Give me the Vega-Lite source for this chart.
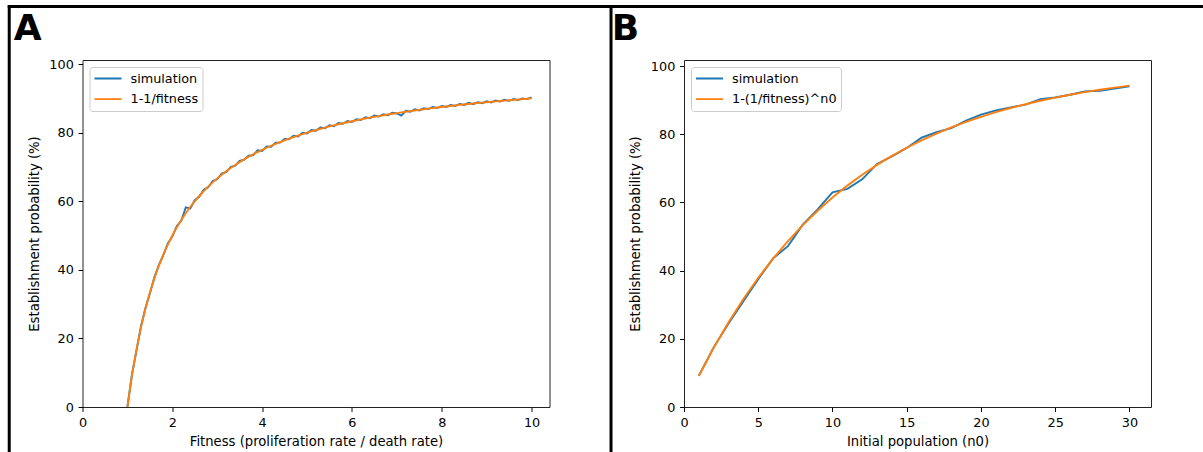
{
  "$schema": "https://vega.github.io/schema/vega-lite/v6.json",
  "padding": {"left": 5.5, "top": 3, "right": 0, "bottom": 0},
  "background": "white",
  "bounds": "flush",
  "spacing": 134.5,
  "config": {
    "font": "DejaVu Sans",
    "view": {"stroke": "#222222", "strokeWidth": 1},
    "axis": {"grid": false, "domain": false, "labelFont": "DejaVu Sans", "labelFontSize": 12.8, "labelColor": "#000000", "tickColor": "#000000", "tickSize": 4.4, "tickWidth": 1, "titleFont": "DejaVu Sans", "titleFontSize": 13.2, "titleFontWeight": "normal", "titleColor": "#000000", "labelFlush": false, "labelOverlap": false},
    "axisX": {"labelPadding": 4.6, "titleBaseline": "alphabetic", "titleY": 38},
    "axisY": {"labelPadding": 4.8, "titleBaseline": "alphabetic", "titleX": -44.5},
    "legend": {"orient": "top-left", "offset": 6.5, "padding": 4, "clipHeight": 15, "fillColor": "rgba(255,255,255,0.8)", "strokeColor": "#cccccc", "strokeWidth": 1, "cornerRadius": 3, "symbolType": "stroke", "symbolSize": 729, "symbolStrokeWidth": 1.9, "labelFont": "DejaVu Sans", "labelFontSize": 12.8, "labelColor": "#000000", "labelOffset": 8, "rowPadding": 5.6}
  },
  "datasets": {
    "a": [
      {"x": 1.0, "simulation": 0, "1-1/fitness": 0},
      {"x": 1.1, "simulation": 9.4, "1-1/fitness": 9.09},
      {"x": 1.2, "simulation": 16.3, "1-1/fitness": 16.67},
      {"x": 1.3, "simulation": 23.4, "1-1/fitness": 23.08},
      {"x": 1.4, "simulation": 28.8, "1-1/fitness": 28.57},
      {"x": 1.5, "simulation": 33.1, "1-1/fitness": 33.33},
      {"x": 1.6, "simulation": 37.8, "1-1/fitness": 37.5},
      {"x": 1.7, "simulation": 41.4, "1-1/fitness": 41.18},
      {"x": 1.8, "simulation": 44.3, "1-1/fitness": 44.44},
      {"x": 1.9, "simulation": 47.7, "1-1/fitness": 47.37},
      {"x": 2.0, "simulation": 49.7, "1-1/fitness": 50},
      {"x": 2.1, "simulation": 52.8, "1-1/fitness": 52.38},
      {"x": 2.2, "simulation": 54.3, "1-1/fitness": 54.55},
      {"x": 2.3, "simulation": 58.2, "1-1/fitness": 56.52},
      {"x": 2.4, "simulation": 57.9, "1-1/fitness": 58.33},
      {"x": 2.5, "simulation": 60.3, "1-1/fitness": 60},
      {"x": 2.6, "simulation": 61.3, "1-1/fitness": 61.54},
      {"x": 2.7, "simulation": 63.4, "1-1/fitness": 62.96},
      {"x": 2.8, "simulation": 64.1, "1-1/fitness": 64.29},
      {"x": 2.9, "simulation": 65.9, "1-1/fitness": 65.52},
      {"x": 3.0, "simulation": 66.4, "1-1/fitness": 66.67},
      {"x": 3.1, "simulation": 68.1, "1-1/fitness": 67.74},
      {"x": 3.2, "simulation": 68.5, "1-1/fitness": 68.75},
      {"x": 3.3, "simulation": 70.0, "1-1/fitness": 69.70},
      {"x": 3.4, "simulation": 70.4, "1-1/fitness": 70.59},
      {"x": 3.5, "simulation": 71.8, "1-1/fitness": 71.43},
      {"x": 3.6, "simulation": 72.1, "1-1/fitness": 72.22},
      {"x": 3.7, "simulation": 73.3, "1-1/fitness": 72.97},
      {"x": 3.8, "simulation": 73.4, "1-1/fitness": 73.68},
      {"x": 3.9, "simulation": 74.9, "1-1/fitness": 74.36},
      {"x": 4.0, "simulation": 74.7, "1-1/fitness": 75},
      {"x": 4.1, "simulation": 76.0, "1-1/fitness": 75.61},
      {"x": 4.2, "simulation": 75.9, "1-1/fitness": 76.19},
      {"x": 4.3, "simulation": 77.1, "1-1/fitness": 76.74},
      {"x": 4.4, "simulation": 77.1, "1-1/fitness": 77.27},
      {"x": 4.5, "simulation": 78.2, "1-1/fitness": 77.78},
      {"x": 4.6, "simulation": 78.1, "1-1/fitness": 78.26},
      {"x": 4.7, "simulation": 79.1, "1-1/fitness": 78.72},
      {"x": 4.8, "simulation": 78.9, "1-1/fitness": 79.17},
      {"x": 4.9, "simulation": 80.0, "1-1/fitness": 79.59},
      {"x": 5.0, "simulation": 79.8, "1-1/fitness": 80},
      {"x": 5.1, "simulation": 80.8, "1-1/fitness": 80.39},
      {"x": 5.2, "simulation": 80.6, "1-1/fitness": 80.77},
      {"x": 5.3, "simulation": 81.5, "1-1/fitness": 81.13},
      {"x": 5.4, "simulation": 81.3, "1-1/fitness": 81.48},
      {"x": 5.5, "simulation": 82.2, "1-1/fitness": 81.82},
      {"x": 5.6, "simulation": 81.9, "1-1/fitness": 82.14},
      {"x": 5.7, "simulation": 82.8, "1-1/fitness": 82.46},
      {"x": 5.8, "simulation": 82.6, "1-1/fitness": 82.76},
      {"x": 5.9, "simulation": 83.4, "1-1/fitness": 83.05},
      {"x": 6.0, "simulation": 83.1, "1-1/fitness": 83.33},
      {"x": 6.1, "simulation": 83.9, "1-1/fitness": 83.61},
      {"x": 6.2, "simulation": 83.7, "1-1/fitness": 83.87},
      {"x": 6.3, "simulation": 84.5, "1-1/fitness": 84.13},
      {"x": 6.4, "simulation": 84.2, "1-1/fitness": 84.38},
      {"x": 6.5, "simulation": 85.0, "1-1/fitness": 84.62},
      {"x": 6.6, "simulation": 84.7, "1-1/fitness": 84.85},
      {"x": 6.7, "simulation": 85.4, "1-1/fitness": 85.07},
      {"x": 6.8, "simulation": 85.1, "1-1/fitness": 85.29},
      {"x": 6.9, "simulation": 85.8, "1-1/fitness": 85.51},
      {"x": 7.0, "simulation": 85.6, "1-1/fitness": 85.71},
      {"x": 7.1, "simulation": 85.0, "1-1/fitness": 85.92},
      {"x": 7.2, "simulation": 86.4, "1-1/fitness": 86.11},
      {"x": 7.3, "simulation": 86.1, "1-1/fitness": 86.30},
      {"x": 7.4, "simulation": 86.8, "1-1/fitness": 86.49},
      {"x": 7.5, "simulation": 86.5, "1-1/fitness": 86.67},
      {"x": 7.6, "simulation": 87.1, "1-1/fitness": 86.84},
      {"x": 7.7, "simulation": 86.9, "1-1/fitness": 87.01},
      {"x": 7.8, "simulation": 87.5, "1-1/fitness": 87.18},
      {"x": 7.9, "simulation": 87.2, "1-1/fitness": 87.34},
      {"x": 8.0, "simulation": 87.8, "1-1/fitness": 87.5},
      {"x": 8.1, "simulation": 87.5, "1-1/fitness": 87.65},
      {"x": 8.2, "simulation": 88.1, "1-1/fitness": 87.80},
      {"x": 8.3, "simulation": 87.8, "1-1/fitness": 87.95},
      {"x": 8.4, "simulation": 88.4, "1-1/fitness": 88.10},
      {"x": 8.5, "simulation": 88.1, "1-1/fitness": 88.24},
      {"x": 8.6, "simulation": 88.7, "1-1/fitness": 88.37},
      {"x": 8.7, "simulation": 88.3, "1-1/fitness": 88.51},
      {"x": 8.8, "simulation": 88.9, "1-1/fitness": 88.64},
      {"x": 8.9, "simulation": 88.6, "1-1/fitness": 88.76},
      {"x": 9.0, "simulation": 89.2, "1-1/fitness": 88.89},
      {"x": 9.1, "simulation": 88.8, "1-1/fitness": 89.01},
      {"x": 9.2, "simulation": 89.4, "1-1/fitness": 89.13},
      {"x": 9.3, "simulation": 89.1, "1-1/fitness": 89.25},
      {"x": 9.4, "simulation": 89.6, "1-1/fitness": 89.36},
      {"x": 9.5, "simulation": 89.3, "1-1/fitness": 89.47},
      {"x": 9.6, "simulation": 89.8, "1-1/fitness": 89.58},
      {"x": 9.7, "simulation": 89.5, "1-1/fitness": 89.69},
      {"x": 9.8, "simulation": 90.0, "1-1/fitness": 89.80},
      {"x": 9.9, "simulation": 89.8, "1-1/fitness": 89.90},
      {"x": 10.0, "simulation": 90.3, "1-1/fitness": 90}
    ],
    "b": [
      {"n0": 1, "simulation": 9.2, "1-(1/fitness)^n0": 9.09},
      {"n0": 2, "simulation": 17.5, "1-(1/fitness)^n0": 17.36},
      {"n0": 3, "simulation": 24.5, "1-(1/fitness)^n0": 24.87},
      {"n0": 4, "simulation": 31.0, "1-(1/fitness)^n0": 31.70},
      {"n0": 5, "simulation": 37.5, "1-(1/fitness)^n0": 37.91},
      {"n0": 6, "simulation": 43.6, "1-(1/fitness)^n0": 43.55},
      {"n0": 7, "simulation": 47.2, "1-(1/fitness)^n0": 48.68},
      {"n0": 8, "simulation": 53.5, "1-(1/fitness)^n0": 53.35},
      {"n0": 9, "simulation": 58.0, "1-(1/fitness)^n0": 57.59},
      {"n0": 10, "simulation": 63.0, "1-(1/fitness)^n0": 61.45},
      {"n0": 11, "simulation": 64.0, "1-(1/fitness)^n0": 64.95},
      {"n0": 12, "simulation": 66.8, "1-(1/fitness)^n0": 68.14},
      {"n0": 13, "simulation": 71.3, "1-(1/fitness)^n0": 71.03},
      {"n0": 14, "simulation": 73.5, "1-(1/fitness)^n0": 73.67},
      {"n0": 15, "simulation": 76.0, "1-(1/fitness)^n0": 76.06},
      {"n0": 16, "simulation": 79.0, "1-(1/fitness)^n0": 78.24},
      {"n0": 17, "simulation": 80.6, "1-(1/fitness)^n0": 80.22},
      {"n0": 18, "simulation": 81.8, "1-(1/fitness)^n0": 82.01},
      {"n0": 19, "simulation": 84.0, "1-(1/fitness)^n0": 83.65},
      {"n0": 20, "simulation": 85.8, "1-(1/fitness)^n0": 85.14},
      {"n0": 21, "simulation": 87.0, "1-(1/fitness)^n0": 86.49},
      {"n0": 22, "simulation": 87.9, "1-(1/fitness)^n0": 87.72},
      {"n0": 23, "simulation": 88.7, "1-(1/fitness)^n0": 88.83},
      {"n0": 24, "simulation": 90.3, "1-(1/fitness)^n0": 89.85},
      {"n0": 25, "simulation": 90.8, "1-(1/fitness)^n0": 90.77},
      {"n0": 26, "simulation": 91.6, "1-(1/fitness)^n0": 91.61},
      {"n0": 27, "simulation": 92.6, "1-(1/fitness)^n0": 92.37},
      {"n0": 28, "simulation": 92.8, "1-(1/fitness)^n0": 93.07},
      {"n0": 29, "simulation": 93.4, "1-(1/fitness)^n0": 93.70},
      {"n0": 30, "simulation": 94.1, "1-(1/fitness)^n0": 94.27}
    ]
  },
  "hconcat": [
    {
      "width": 467,
      "height": 347,
      "layer": [
        {
          "data": {"name": "a"},
          "transform": [{"fold": ["simulation", "1-1/fitness"], "as": ["series", "value"]}],
          "mark": {"type": "line", "strokeWidth": 1.9},
          "encoding": {
            "x": {"field": "x", "type": "quantitative", "scale": {"domain": [0, 10.4], "nice": false, "zero": false}, "axis": {"values": [0, 2, 4, 6, 8, 10], "title": "Fitness (proliferation rate / death rate)"}},
            "y": {"field": "value", "type": "quantitative", "scale": {"domain": [0, 101.2], "nice": false}, "axis": {"values": [0, 20, 40, 60, 80, 100], "title": "Establishment probability (%)"}},
            "color": {"field": "series", "type": "nominal", "scale": {"domain": ["simulation", "1-1/fitness"], "range": ["#1f77b4", "#ff7f0e"]}, "legend": {"title": null}}
          }
        },
        {
          "data": {"values": [{}]},
          "mark": {"type": "text", "text": "A", "fontSize": 36, "fontWeight": "bold", "font": "DejaVu Sans", "align": "left", "baseline": "alphabetic", "color": "#000000"},
          "encoding": {"x": {"datum": -1.532}, "y": {"datum": 107.12}}
        },
        {
          "data": {"values": [{}]},
          "mark": {"type": "rule", "strokeWidth": 3, "color": "#000000"},
          "encoding": {"x": {"datum": -1.632}, "y": {"datum": 117.2}, "y2": {"datum": -14}}
        },
        {
          "data": {"values": [{}]},
          "mark": {"type": "rule", "strokeWidth": 3, "color": "#000000"},
          "encoding": {"x": {"datum": -1.665}, "x2": {"datum": 11.80}, "y": {"datum": 116.8}}
        },
        {
          "data": {"values": [{}]},
          "mark": {"type": "rule", "strokeWidth": 3, "color": "#000000"},
          "encoding": {"x": {"datum": 11.77}, "y": {"datum": 117.2}, "y2": {"datum": -14}}
        }
      ]
    },
    {
      "width": 467,
      "height": 347,
      "layer": [
        {
          "data": {"name": "b"},
          "transform": [{"fold": ["simulation", "1-(1/fitness)^n0"], "as": ["series", "value"]}],
          "mark": {"type": "line", "strokeWidth": 1.9},
          "encoding": {
            "x": {"field": "n0", "type": "quantitative", "scale": {"domain": [0, 31.45], "nice": false, "zero": false}, "axis": {"values": [0, 5, 10, 15, 20, 25, 30], "title": "Initial population (n0)"}},
            "y": {"field": "value", "type": "quantitative", "scale": {"domain": [0, 101.8], "nice": false}, "axis": {"values": [0, 20, 40, 60, 80, 100], "title": "Establishment probability (%)"}},
            "color": {"field": "series", "type": "nominal", "scale": {"domain": ["simulation", "1-(1/fitness)^n0"], "range": ["#1f77b4", "#ff7f0e"]}, "legend": {"title": null}}
          }
        },
        {
          "data": {"values": [{}]},
          "mark": {"type": "text", "text": "B", "fontSize": 36, "fontWeight": "bold", "font": "DejaVu Sans", "align": "left", "baseline": "alphabetic", "color": "#000000"},
          "encoding": {"x": {"datum": -4.869}, "y": {"datum": 107.76}}
        },
        {
          "data": {"values": [{}]},
          "mark": {"type": "rule", "strokeWidth": 3, "color": "#000000"},
          "encoding": {"x": {"datum": -4.916}, "x2": {"datum": 34.95}, "y": {"datum": 117.5}}
        }
      ]
    }
  ],
  "resolve": {"scale": {"color": "independent"}, "legend": {"color": "independent"}}
}
